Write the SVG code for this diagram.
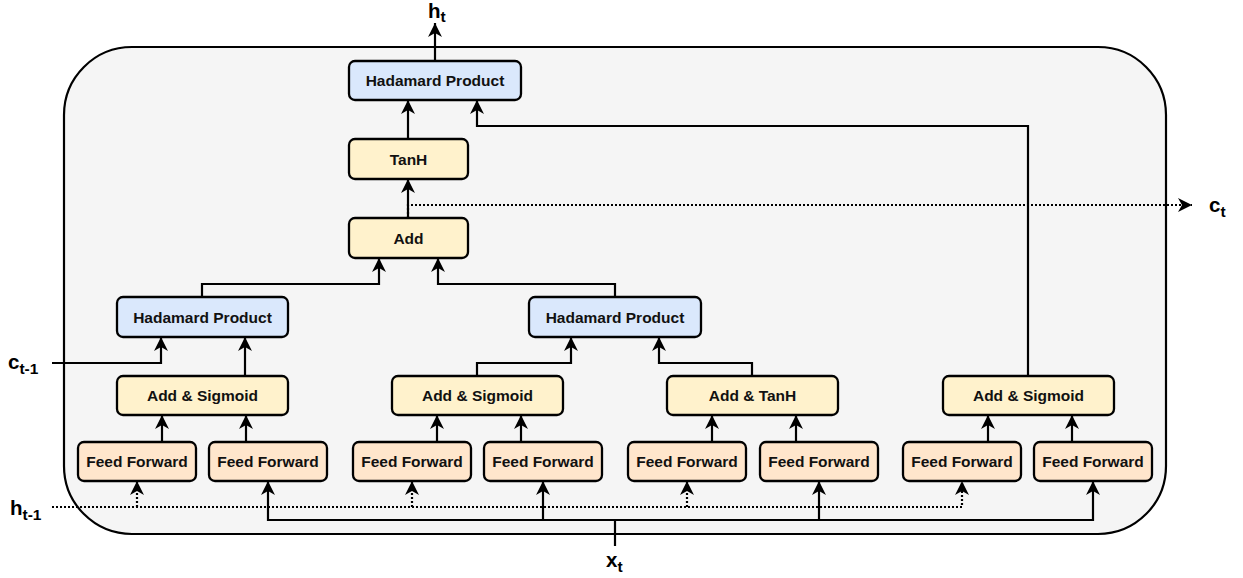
<svg xmlns="http://www.w3.org/2000/svg" width="1243" height="578" viewBox="0 0 1243 578">
  <defs>
    <style>
      .box { stroke: #000; stroke-width: 2.3; }
      .ff { fill: #ffe6cc; }
      .op { fill: #fff2cc; }
      .hp { fill: #dae8fc; }
      .lbl { font-family: "Liberation Sans", Arial, sans-serif; font-weight: bold; font-size: 15.5px; fill: #111; text-anchor: middle; }
      .io { font-family: "Liberation Sans", Arial, sans-serif; font-weight: bold; font-size: 20.5px; fill: #000; }
      .sub { font-size: 15.5px; }
      .wire { fill: none; stroke: #000; stroke-width: 2.2; marker-end: url(#arrow); }
      .dot { stroke-dasharray: 2 2; }
    </style>
    <marker id="arrow" markerUnits="userSpaceOnUse" markerWidth="16" markerHeight="16" refX="14" refY="7" orient="auto">
      <path d="M0,0 L14,7 L0,14 L4,7 z" fill="#000" stroke="none"/>
    </marker>
  </defs>

  <!-- LSTM cell boundary -->
  <rect id="cell" x="64" y="47" width="1102" height="487" rx="68" ry="68" fill="#f5f5f5" stroke="#000" stroke-width="2.2"/>

  <!-- connectors -->
  <g id="connectors">
    <path class="wire" d="M435,61 V23"/>
    <path class="wire" d="M408,139 V100"/>
    <path class="wire" d="M1028,376 V126 H477 V100"/>
    <path class="wire" d="M408,218 V179"/>
    <path class="wire dot" d="M408,218 V205 H1192"/>
    <path class="wire" d="M202,297 V284 H379 V258"/>
    <path class="wire" d="M615,297 V284 H438 V258"/>
    <path class="wire" d="M52,363 H161 V337"/>
    <path class="wire" d="M245,376 V337"/>
    <path class="wire" d="M477,376 V363 H571 V337"/>
    <path class="wire" d="M752,376 V363 H659 V337"/>
    <!-- feed forward to gate -->
    <path class="wire" d="M162,442 V415"/>
    <path class="wire" d="M246,442 V415"/>
    <path class="wire" d="M437,442 V415"/>
    <path class="wire" d="M521,442 V415"/>
    <path class="wire" d="M712,442 V415"/>
    <path class="wire" d="M796,442 V415"/>
    <path class="wire" d="M988,442 V415"/>
    <path class="wire" d="M1072,442 V415"/>
    <!-- previous hidden state -->
    <path class="wire dot" d="M52,507 H962 V481"/>
    <path class="wire dot" d="M137,507 V481"/>
    <path class="wire dot" d="M412,507 V481"/>
    <path class="wire dot" d="M687,507 V481"/>
    <!-- input -->
    <path class="wire" d="M615,546 V520 H268 V481"/>
    <path class="wire" d="M615,520 H1093 V481"/>
    <path class="wire" d="M543,520 V481"/>
    <path class="wire" d="M819,520 V481"/>
  </g>

  <!-- output hadamard / tanh / add -->
  <g id="had-out"><rect class="box hp" x="349" y="61" width="172" height="39" rx="6"/><text class="lbl" x="435" y="86">Hadamard Product</text></g>
  <g id="tanh-out"><rect class="box op" x="349" y="139" width="119" height="40" rx="6"/><text class="lbl" x="408.5" y="164.5">TanH</text></g>
  <g id="add-cell"><rect class="box op" x="349" y="218" width="119" height="40" rx="6"/><text class="lbl" x="408.5" y="243.5">Add</text></g>

  <!-- hadamard products -->
  <g id="had-forget"><rect class="box hp" x="117" y="297" width="171" height="40" rx="6"/><text class="lbl" x="202.5" y="322.5">Hadamard Product</text></g>
  <g id="had-input"><rect class="box hp" x="529" y="297" width="172" height="40" rx="6"/><text class="lbl" x="615" y="322.5">Hadamard Product</text></g>

  <!-- gates -->
  <g id="gate-forget"><rect class="box op" x="117" y="376" width="171" height="39" rx="6"/><text class="lbl" x="202.5" y="401">Add &amp; Sigmoid</text></g>
  <g id="gate-input"><rect class="box op" x="392" y="376" width="171" height="39" rx="6"/><text class="lbl" x="477.5" y="401">Add &amp; Sigmoid</text></g>
  <g id="gate-cand"><rect class="box op" x="667" y="376" width="171" height="39" rx="6"/><text class="lbl" x="752.5" y="401">Add &amp; TanH</text></g>
  <g id="gate-output"><rect class="box op" x="943" y="376" width="171" height="39" rx="6"/><text class="lbl" x="1028.5" y="401">Add &amp; Sigmoid</text></g>

  <!-- feed forward layers -->
  <g id="ff1"><rect class="box ff" x="78" y="442" width="118" height="39" rx="6"/><text class="lbl" x="137" y="467">Feed Forward</text></g>
  <g id="ff2"><rect class="box ff" x="209" y="442" width="118" height="39" rx="6"/><text class="lbl" x="268" y="467">Feed Forward</text></g>
  <g id="ff3"><rect class="box ff" x="353" y="442" width="118" height="39" rx="6"/><text class="lbl" x="412" y="467">Feed Forward</text></g>
  <g id="ff4"><rect class="box ff" x="484" y="442" width="118" height="39" rx="6"/><text class="lbl" x="543" y="467">Feed Forward</text></g>
  <g id="ff5"><rect class="box ff" x="628" y="442" width="118" height="39" rx="6"/><text class="lbl" x="687" y="467">Feed Forward</text></g>
  <g id="ff6"><rect class="box ff" x="760" y="442" width="118" height="39" rx="6"/><text class="lbl" x="819" y="467">Feed Forward</text></g>
  <g id="ff7"><rect class="box ff" x="903" y="442" width="118" height="39" rx="6"/><text class="lbl" x="962" y="467">Feed Forward</text></g>
  <g id="ff8"><rect class="box ff" x="1034" y="442" width="118" height="39" rx="6"/><text class="lbl" x="1093" y="467">Feed Forward</text></g>

  <!-- inputs and outputs -->
  <g id="labels">
    <text class="io" x="428" y="17.5">h<tspan class="sub" dy="4.5">t</tspan></text>
    <text class="io" x="1209" y="212">c<tspan class="sub" dy="5">t</tspan></text>
    <text class="io" x="606" y="567">x<tspan class="sub" dy="5">t</tspan></text>
    <text class="io" x="10" y="515">h<tspan class="sub" dy="5">t-1</tspan></text>
    <text class="io" x="8" y="369">c<tspan class="sub" dy="5">t-1</tspan></text>
  </g>
</svg>
